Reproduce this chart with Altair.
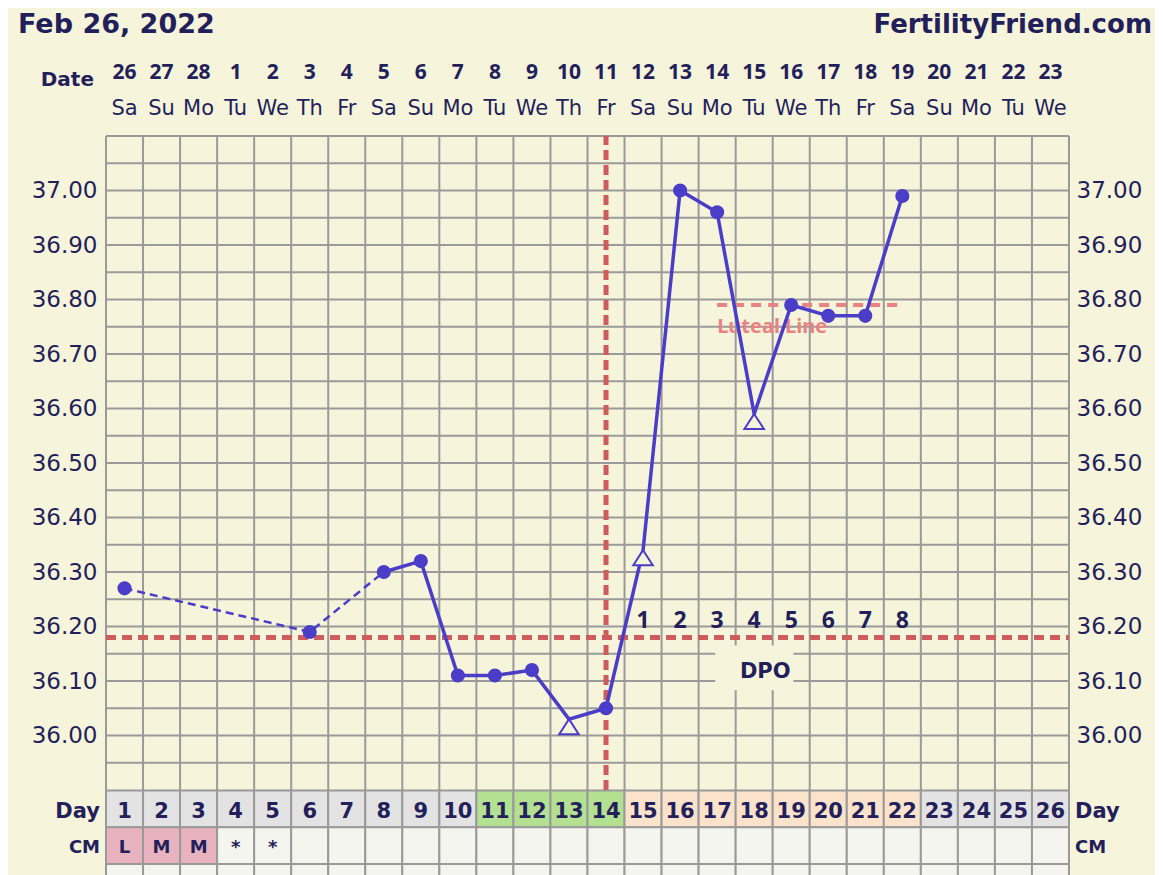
import altair as alt
import pandas as pd
import numpy as np

# ---------------- data ----------------
cycle_days = list(range(1, 27))
date_labels = ["26", "27", "28", "1", "2", "3", "4", "5", "6", "7", "8", "9", "10",
               "11", "12", "13", "14", "15", "16", "17", "18", "19", "20", "21", "22", "23"]
weekday_labels = ["Sa", "Su", "Mo", "Tu", "We", "Th", "Fr", "Sa", "Su", "Mo", "Tu", "We", "Th",
                  "Fr", "Sa", "Su", "Mo", "Tu", "We", "Th", "Fr", "Sa", "Su", "Mo", "Tu", "We"]
day_phase = ["pre"] * 10 + ["fertile"] * 4 + ["luteal"] * 8 + ["future"] * 4
cm_labels = ["L", "M", "M", "*", "*"] + [""] * 21
cm_phase = ["period"] * 3 + ["blank"] * 23

temp_days = [1, 6, 8, 9, 10, 11, 12, 13, 14, 15, 16, 17, 18, 19, 20, 21, 22]
temp_values = [36.27, 36.19, 36.30, 36.32, 36.11, 36.11, 36.12, 36.03, 36.05,
               36.34, 37.00, 36.96, 36.59, 36.79, 36.77, 36.77, 36.99]
temp_open = [False, False, False, False, False, False, False, True, False,
             True, False, False, True, False, False, False, False]

coverline = 36.18
ovulation_day = 14
luteal_value = 36.79
luteal_span = [17, 22]
dpo_days = [15, 16, 17, 18, 19, 20, 21, 22]
dpo_labels = ["1", "2", "3", "4", "5", "6", "7", "8"]
temp_ticks = [36.0, 36.1, 36.2, 36.3, 36.4, 36.5, 36.6, 36.7, 36.8, 36.9, 37.0]
temp_range = [35.90, 37.10]
row_names = ["Day", "CM", "Notes"]

# ---------------- style ----------------
NAVY = "#231f5a"
GRID = "#9a9a9a"
BLUE = "#4a3ec8"
RED = "#cd5c5c"
PINK = "#e98282"
CREAM = "#f7f4dc"
W, H = 963, 654

xs = alt.Scale(domain=[0, 26], nice=False, zero=False)
ts = alt.Scale(domain=temp_range, nice=False, zero=False)
band_rows = alt.Scale(type="band", domain=row_names, range=[654.6, 764.6], paddingInner=0, paddingOuter=0)
text_rows = alt.Scale(type="point", domain=row_names, range=[682, 752], padding=0)
hdr_rows = alt.Scale(type="point", domain=["date", "dow"], range=[-57.3, -21], padding=0)
fill_scale = alt.Scale(domain=["pre", "future", "fertile", "luteal", "period", "blank"],
                       range=["#e3e3e3", "#e3e3e3", "#b3e091", "#fbe2cb", "#e8b3bf", "#f5f5ef"])

TRI = "M0,0L0.65,1L-0.65,1Z"

temps_df = pd.DataFrame({"day": temp_days, "temp": temp_values, "open": temp_open})
days_df = pd.DataFrame({"day": cycle_days, "date": date_labels, "dow": weekday_labels})

rows = []
for d, ph, cm, cp in zip(cycle_days, day_phase, cm_labels, cm_phase):
    rows.append({"day": d, "row": "Day", "cat": ph, "label": str(d)})
    rows.append({"day": d, "row": "CM", "cat": cp, "label": cm})
    rows.append({"day": d, "row": "Notes", "cat": "blank", "label": ""})
table_df = pd.DataFrame(rows)

hgrid_vals = [round(v, 2) for v in np.arange(35.95, 37.1001, 0.05)]

left_axis = alt.Axis(orient="left", values=temp_ticks, format=".2f", labelFont="DejaVu Sans",
                     labelFontSize=23, labelColor=NAVY, labelPadding=9, domain=False,
                     ticks=False, grid=False, title=None)
right_axis = alt.Axis(orient="right", values=temp_ticks, format=".2f", labelFont="DejaVu Sans",
                      labelFontSize=23, labelColor=NAVY, labelPadding=7, domain=False,
                      ticks=False, grid=False, title=None)

# grid
vgrid = alt.Chart(pd.DataFrame({"x": list(range(0, 27))})).transform_calculate(
    t0=str(temp_range[0]), t1=str(temp_range[1])
).mark_rule(color=GRID, strokeWidth=2).encode(
    x=alt.X("x:Q", scale=xs, axis=None),
    y=alt.Y("t0:Q", scale=ts, axis=None), y2="t1:Q")

hgrid = alt.Chart(pd.DataFrame({"t": hgrid_vals})).transform_calculate(
    x0="0", x1="26"
).mark_rule(color=GRID, strokeWidth=2).encode(
    x=alt.X("x0:Q", scale=xs, axis=None), x2="x1:Q",
    y=alt.Y("t:Q", scale=ts, axis=right_axis))

# table
table_base = alt.Chart(table_df).transform_calculate(
    x0="datum.day - 1", x1="datum.day", xc="datum.day - 0.5")
table_rect = table_base.mark_rect(stroke=GRID, strokeWidth=2).encode(
    x=alt.X("x0:Q", scale=xs, axis=None), x2="x1:Q",
    y=alt.Y("row:N", scale=band_rows, axis=None),
    fill=alt.Fill("cat:N", scale=fill_scale, legend=None))
day_text = table_base.transform_filter("datum.row == 'Day'").mark_text(
    font="DejaVu Sans", fontWeight="bold", fontSize=21, color=NAVY, baseline="alphabetic").encode(
    x=alt.X("xc:Q", scale=xs, axis=None),
    y=alt.Y("row:N", scale=text_rows, axis=None), text="label:N")
cm_text = table_base.transform_filter("datum.row == 'CM'").mark_text(
    font="DejaVu Sans", fontWeight="bold", fontSize=18, color=NAVY, baseline="alphabetic").encode(
    x=alt.X("xc:Q", scale=xs, axis=None),
    y=alt.Y("row:N", scale=text_rows, axis=None), text="label:N")

row_lab_df = pd.DataFrame({"row": row_names, "fs": [21, 18, 18]})
row_lab_left = alt.Chart(row_lab_df).mark_text(
    font="DejaVu Sans", fontWeight="bold", color=NAVY, baseline="alphabetic", align="right").encode(
    x=alt.value(-6), y=alt.Y("row:N", scale=text_rows, axis=None),
    size=alt.Size("fs:Q", scale=None, legend=None), text="row:N")
row_lab_right = alt.Chart(row_lab_df).mark_text(
    font="DejaVu Sans", fontWeight="bold", color=NAVY, baseline="alphabetic", align="left").encode(
    x=alt.value(W + 6), y=alt.Y("row:N", scale=text_rows, axis=None),
    size=alt.Size("fs:Q", scale=None, legend=None), text="row:N")

# header
hdr_base = alt.Chart(days_df).transform_calculate(xc="datum.day - 0.5")
hdr_dates = hdr_base.transform_calculate(r="'date'").mark_text(
    font="Noto Sans", fontWeight="bold", fontSize=21, color=NAVY, baseline="alphabetic").encode(
    x=alt.X("xc:Q", scale=xs, axis=None),
    y=alt.Y("r:N", scale=hdr_rows, axis=None), text="date:N")
hdr_dow = hdr_base.transform_calculate(r="'dow'").mark_text(
    font="DejaVu Sans", fontSize=21, color=NAVY, baseline="alphabetic").encode(
    x=alt.X("xc:Q", scale=xs, axis=None),
    y=alt.Y("r:N", scale=hdr_rows, axis=None), text="dow:N")
date_lab = alt.Chart(pd.DataFrame({"t": ["Date"]})).mark_text(
    font="DejaVu Sans", fontWeight="bold", fontSize=20, color=NAVY, baseline="alphabetic", align="right").encode(
    x=alt.value(-12), y=alt.value(-50), text="t:N")
title_left = alt.Chart(pd.DataFrame({"t": ["Feb 26, 2022"]})).mark_text(
    font="DejaVu Sans", fontWeight="bold", fontSize=27, color=NAVY, baseline="alphabetic", align="left").encode(
    x=alt.value(-88), y=alt.value(-103), text="t:N")
title_right = alt.Chart(pd.DataFrame({"t": ["FertilityFriend.com"]})).mark_text(
    font="DejaVu Sans", fontWeight="bold", fontSize=26, color=NAVY, baseline="alphabetic", align="right").encode(
    x=alt.value(1046), y=alt.value(-103), text="t:N")

# red lines
cover = alt.Chart(pd.DataFrame({"t": [coverline]})).transform_calculate(x0="0", x1="26").mark_rule(
    color=RED, strokeWidth=5, strokeDash=[10, 6]).encode(
    x=alt.X("x0:Q", scale=xs, axis=None), x2="x1:Q", y=alt.Y("t:Q", scale=ts, axis=None))
ovul = alt.Chart(pd.DataFrame({"day": [ovulation_day]})).transform_calculate(
    xc="datum.day - 0.5", t0=str(temp_range[0]), t1=str(temp_range[1])).mark_rule(
    color=RED, strokeWidth=5, strokeDash=[10, 5]).encode(
    x=alt.X("xc:Q", scale=xs, axis=None), y=alt.Y("t0:Q", scale=ts, axis=None), y2="t1:Q")
luteal = alt.Chart(pd.DataFrame({"d0": [luteal_span[0]], "d1": [luteal_span[1]], "t": [luteal_value]})).transform_calculate(
    x0="datum.d0 - 0.5", x1="datum.d1 - 0.5").mark_rule(
    color=PINK, strokeWidth=4, strokeDash=[10, 7]).encode(
    x=alt.X("x0:Q", scale=xs, axis=None), x2="x1:Q", y=alt.Y("t:Q", scale=ts, axis=None))
luteal_lab = alt.Chart(pd.DataFrame({"d0": [luteal_span[0]], "t": [36.738], "lab": ["Luteal Line"]})).transform_calculate(
    x0="datum.d0 - 0.5").mark_text(
    font="Noto Sans", fontWeight="bold", fontSize=20, color=PINK, align="left", baseline="alphabetic").encode(
    x=alt.X("x0:Q", scale=xs, axis=None), y=alt.Y("t:Q", scale=ts, axis=None), text="lab:N")

# DPO
dpo_box = alt.Chart(pd.DataFrame({"x0": [16.45], "x1": [18.56], "t0": [36.083], "t1": [36.165]})).mark_rect(
    color=CREAM).encode(
    x=alt.X("x0:Q", scale=xs, axis=None), x2="x1:Q",
    y=alt.Y("t0:Q", scale=ts, axis=None), y2="t1:Q")
dpo_word = alt.Chart(pd.DataFrame({"x": [17.8], "t": [36.106], "lab": ["DPO"]})).mark_text(
    font="DejaVu Sans", fontWeight="bold", fontSize=21, color=NAVY, baseline="alphabetic").encode(
    x=alt.X("x:Q", scale=xs, axis=None), y=alt.Y("t:Q", scale=ts, axis=None), text="lab:N")
dpo_nums = alt.Chart(pd.DataFrame({"day": dpo_days, "lab": dpo_labels})).transform_calculate(
    xc="datum.day - 0.5", t="36.197").mark_text(
    font="Noto Sans", fontWeight="bold", fontSize=23, color=NAVY, baseline="alphabetic").encode(
    x=alt.X("xc:Q", scale=xs, axis=None), y=alt.Y("t:Q", scale=ts, axis=None), text="lab:N")

# temperatures
tbase = alt.Chart(temps_df).transform_calculate(xc="datum.day - 0.5")
line_gap = tbase.transform_filter("datum.day <= 8").mark_line(
    color=BLUE, strokeWidth=2.5, strokeDash=[8, 5]).encode(
    x=alt.X("xc:Q", scale=xs, axis=None), y=alt.Y("temp:Q", scale=ts, axis=None))
line_solid = tbase.transform_filter("datum.day >= 8").mark_line(
    color=BLUE, strokeWidth=3.5).encode(
    x=alt.X("xc:Q", scale=xs, axis=None), y=alt.Y("temp:Q", scale=ts, axis=None))
dots = tbase.transform_filter("!datum.open").mark_point(
    shape="circle", filled=True, size=200, color=BLUE, opacity=1).encode(
    x=alt.X("xc:Q", scale=xs, axis=None), y=alt.Y("temp:Q", scale=ts, axis=left_axis))
tris = tbase.transform_filter("datum.open").mark_point(
    shape=TRI, filled=True, fill=CREAM, stroke=BLUE, strokeWidth=2, size=900, opacity=1).encode(
    x=alt.X("xc:Q", scale=xs, axis=None), y=alt.Y("temp:Q", scale=ts, axis=None))

chart = alt.layer(
    vgrid, hgrid, table_rect, day_text, cm_text, row_lab_left, row_lab_right,
    hdr_dates, hdr_dow, date_lab, title_left, title_right,
    dpo_box, cover, ovul, luteal, luteal_lab, dpo_word, dpo_nums,
    line_gap, line_solid, dots, tris
).resolve_scale(y="independent").properties(
    width=W, height=H, background=CREAM,
    padding={"left": 98, "top": 128, "right": 86, "bottom": 85},
    autosize="none"
).configure_view(stroke=None)

chart.save("out.html", embed_options={"renderer": "svg", "actions": False})
